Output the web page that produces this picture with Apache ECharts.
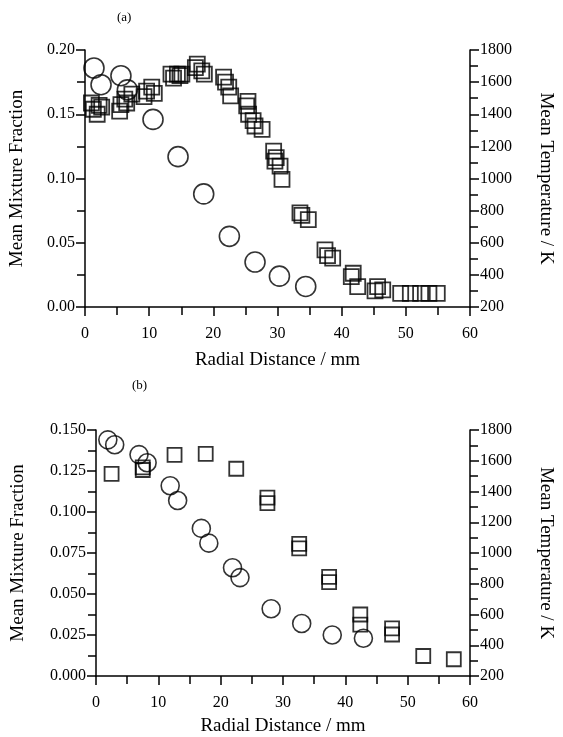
<!DOCTYPE html>
<html><head><meta charset="utf-8">
<script src="https://cdn.jsdelivr.net/npm/echarts@6/dist/echarts.min.js"></script>
<style>html,body{margin:0;padding:0;background:#fff}#c{width:563px;height:737px}</style>
</head><body><div id="c"></div>
<script>
// Panel (a): mean mixture fraction (circles, left axis)
const aCircR = [1.4, 2.5, 5.6, 6.6, 10.6, 14.5, 18.5, 22.5, 26.5, 30.3, 34.4];
const aCircF = [0.186, 0.173, 0.180, 0.169, 0.146, 0.117, 0.088, 0.055, 0.035, 0.024, 0.016];
// Panel (a): mean temperature (squares, right axis)
const aSqR = [1.0, 1.3, 1.9, 2.2, 2.6, 5.4, 5.6, 6.2, 6.5, 7.3, 9.2, 9.6, 10.4, 10.8, 13.4, 13.8, 14.4, 14.8, 15.1, 17.2, 17.5, 18.2, 18.6, 21.6, 21.9, 22.4, 22.7, 25.2, 25.4, 25.5, 26.2, 26.5, 27.6, 29.4, 29.6, 29.8, 30.4, 30.7, 33.5, 33.8, 34.8, 37.4, 37.8, 38.6, 41.5, 41.8, 42.5, 45.2, 45.6, 46.4, 49.2, 50.7, 52.3, 53.6, 54.9];
const aSqT = [1470, 1431, 1400, 1455, 1444, 1419, 1460, 1494, 1470, 1525, 1510, 1544, 1569, 1530, 1650, 1625, 1650, 1640, 1650, 1690, 1712, 1670, 1650, 1631, 1600, 1569, 1515, 1452, 1480, 1400, 1360, 1327, 1306, 1171, 1108, 1130, 1077, 994, 786, 770, 744, 556, 520, 504, 389, 410, 327, 300, 327, 306, 285, 285, 285, 285, 285];
// Panel (b)
const bCircR = [1.9, 3.0, 6.9, 8.2, 11.9, 13.1, 16.9, 18.1, 21.9, 23.1, 28.1, 33.0, 37.9, 42.9];
const bCircF = [0.144, 0.141, 0.135, 0.130, 0.116, 0.107, 0.090, 0.081, 0.066, 0.060, 0.041, 0.032, 0.025, 0.023];
const bSqR = [2.5, 7.5, 7.5, 12.6, 17.6, 22.5, 27.5, 27.5, 32.6, 32.6, 37.4, 37.4, 42.4, 42.4, 47.5, 47.5, 52.5, 57.4];
const bSqT = [1514, 1557, 1540, 1638, 1645, 1548, 1360, 1325, 1060, 1030, 845, 810, 600, 534, 510, 470, 330, 309];
const xTicks = [0, 10, 20, 30, 40, 50, 60];

const FONT = 'Liberation Serif';
const pair = (xs, ys) => xs.map((x, i) => [x, ys[i]]);
const axisLine = {show: true, lineStyle: {color: '#000', width: 1.5}};
const lab = {color: '#000', fontFamily: FONT, fontSize: 16};
const nameStyle = {color: '#000', fontFamily: FONT, fontSize: 19};

function xAxis(gi, gap) {
  return {type: 'value', gridIndex: gi, min: 0, max: 60, interval: 10,
    axisLine: axisLine, axisTick: {show: true, inside: false, length: 9, lineStyle: {color: '#000', width: 1.5}},
    minorTick: {show: true, splitNumber: 2, length: 8, lineStyle: {color: '#000', width: 1.5}},
    splitLine: {show: false}, axisLabel: Object.assign({margin: 19, formatter: v => String(v)}, lab),
    name: 'Radial Distance / mm', nameLocation: 'middle', nameGap: gap, nameTextStyle: nameStyle};
}
function yLeft(gi, max, interval, dec, gap) {
  return {type: 'value', gridIndex: gi, position: 'left', min: 0, max: max, interval: interval,
    axisLine: axisLine, axisTick: {show: true, length: 9, lineStyle: {color: '#000', width: 1.5}},
    minorTick: {show: true, splitNumber: 2, length: 8, lineStyle: {color: '#000', width: 1.5}},
    splitLine: {show: false}, axisLabel: Object.assign({margin: 10, formatter: v => v.toFixed(dec)}, lab),
    name: 'Mean Mixture Fraction', nameLocation: 'middle', nameGap: gap, nameRotate: 90, nameTextStyle: nameStyle};
}
function yRight(gi, gap) {
  return {type: 'value', gridIndex: gi, position: 'right', min: 200, max: 1800, interval: 200,
    axisLine: axisLine, axisTick: {show: true, length: 9, lineStyle: {color: '#000', width: 1.5}},
    minorTick: {show: true, splitNumber: 2, length: 8, lineStyle: {color: '#000', width: 1.5}},
    splitLine: {show: false}, axisLabel: Object.assign({margin: 10, formatter: v => String(v)}, lab),
    name: 'Mean Temperature / K', nameLocation: 'middle', nameGap: gap, nameRotate: -90, nameTextStyle: nameStyle};
}
const circStyle = {color: 'rgba(0,0,0,0)', borderColor: '#000', borderWidth: 1.6};
const sqStyle = {color: 'rgba(0,0,0,0)', borderColor: '#000', borderWidth: 1.8};

const chart = echarts.init(document.getElementById('c'), null, {renderer: 'canvas'});
chart.setOption({
  backgroundColor: '#fff',
  animation: false,
  title: [
    {text: '(a)', left: 112, top: 6, textStyle: {fontFamily: FONT, fontSize: 13, fontWeight: 'normal', color: '#000'}},
    {text: '(b)', left: 127, top: 374, textStyle: {fontFamily: FONT, fontSize: 13, fontWeight: 'normal', color: '#000'}}
  ],
  grid: [
    {left: 85, right: 90, top: 50, height: 257},
    {left: 96, right: 90, top: 430, height: 248}
  ],
  xAxis: [xAxis(0, 44), xAxis(1, 41)],
  yAxis: [yLeft(0, 0.2, 0.05, 2, 58), yRight(0, 66), yLeft(1, 0.15, 0.025, 3, 68), yRight(1, 66)],
  series: [
    {type: 'scatter', xAxisIndex: 0, yAxisIndex: 1, symbol: 'rect', symbolSize: 15, data: pair(aSqR, aSqT), itemStyle: sqStyle},
    {type: 'scatter', xAxisIndex: 0, yAxisIndex: 0, symbol: 'circle', symbolSize: 20, data: pair(aCircR, aCircF), itemStyle: circStyle},
    {type: 'scatter', xAxisIndex: 1, yAxisIndex: 3, symbol: 'rect', symbolSize: 14, data: pair(bSqR, bSqT), itemStyle: sqStyle},
    {type: 'scatter', xAxisIndex: 1, yAxisIndex: 2, symbol: 'circle', symbolSize: 18, data: pair(bCircR, bCircF), itemStyle: circStyle}
  ]
});
</script></body></html>
